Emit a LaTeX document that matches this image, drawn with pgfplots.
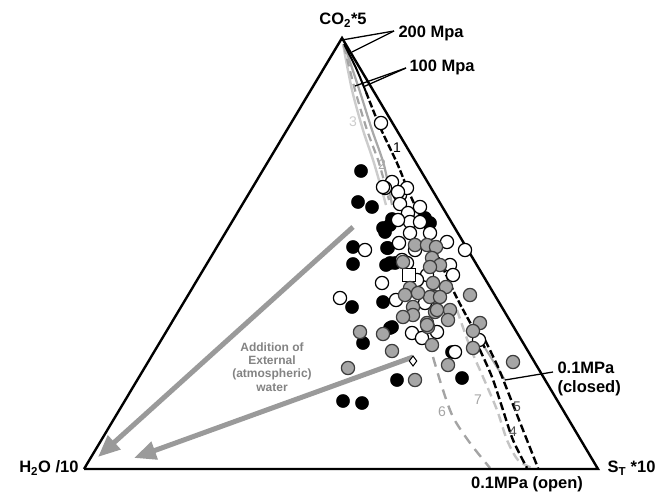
\documentclass[border=0pt]{standalone}
\usepackage{pgfplots}
\pgfplotsset{compat=1.18}
\usetikzlibrary{arrows.meta}
\usepackage{fontspec}
\setmainfont{Liberation Sans}

\definecolor{ptgray}{HTML}{A6A6A6}
\definecolor{ptedge}{HTML}{3C3C3C}
\definecolor{arrowgray}{HTML}{9A9A9A}
\definecolor{cthree}{HTML}{CCCCCC}
\definecolor{ctwo}{HTML}{A8A8A8}
\definecolor{csix}{HTML}{A4A4A4}
\definecolor{cseven}{HTML}{C4C4C4}

\tikzset{lab/.style={font=\bfseries\fontsize{16.5}{18.5}\selectfont},
         num/.style={font=\fontsize{14}{16}\selectfont}}

\begin{document}
\begin{tikzpicture}
\begin{axis}[
  width=660pt, height=491pt, scale only axis,
  xmin=0, xmax=660, ymin=0, ymax=491, y dir=reverse,
  axis lines=none, clip=false,
]
% invisible frame
\addplot[draw=none] coordinates {(0,0) (660,491)};

% curves from the top (200/100 MPa)
\addplot[cthree, line width=2.4pt, smooth] coordinates {(343,44) (352,90) (363,130) (374,163) (386,205)};
\addplot[csix, line width=2.2pt, dash pattern=on 8pt off 5pt, smooth] coordinates {(344,46) (355,90) (367,130) (379,163) (389,200)};
\addplot[ctwo, line width=2.2pt, smooth] coordinates {(346,50) (360,92) (372,130) (384,165) (392,205)};
\addplot[black, line width=2pt, smooth] coordinates {(344,44) (356,68) (366,92)};
\addplot[black, line width=2.4pt, dash pattern=on 7pt off 2.5pt, smooth] coordinates {(366,92) (380,127) (397,163) (408,190) (417,210) (435,250) (453,290) (467,317) (485,348)};
\addplot[ctwo, line width=2pt] coordinates {(485,348) (505,380)};
\addplot[black, line width=1.3pt] coordinates {(505,380) (553,372)};

% curves to 0.1 MPa (open)
\addplot[csix, line width=2.4pt, dash pattern=on 10pt off 7pt, smooth] coordinates {(433,357) (442,387) (453,417) (470,443) (490,468)};
\addplot[cseven, line width=2.4pt, dash pattern=on 9pt off 5pt, smooth] coordinates {(457,310) (470,347) (483,377) (497,410) (507,440) (518,460) (532,468)};
\addplot[black, line width=2.4pt, dash pattern=on 8pt off 3.5pt, smooth] coordinates {(470,328) (480,350) (492,377) (502,407) (513,440) (527,468)};
\addplot[black, line width=2.4pt, dash pattern=on 8pt off 3.5pt, smooth] coordinates {(485,340) (498,367) (510,397) (523,430) (538,468)};

% triangle
\addplot[black, line width=2.4pt] coordinates {(84,469) (598,469) (342,38) (84,469)};

% pointer lines
\addplot[black, line width=1.3pt] coordinates {(394,31) (342,40)};
\addplot[black, line width=1.3pt] coordinates {(394,31) (352,52)};
\addplot[black, line width=1.3pt] coordinates {(406,68) (355,86)};
\addplot[black, line width=1.3pt] coordinates {(406,68) (363,87)};

% arrows: addition of external water
\addplot[arrowgray, line width=5pt, -{Triangle[length=22pt,width=18pt]}] coordinates {(353,227) (98,457)};
\addplot[arrowgray, line width=5pt, -{Triangle[length=22pt,width=18pt]}] coordinates {(413,357) (134,458)};

% black samples
\addplot[only marks, mark=*, mark size=6.6pt, mark options={fill=black, draw=black}] coordinates {
(361,171) (358,202) (372,207) (383,228) (390,225) (392,219) (353,247) (388,248)
(353,264) (386,265) (395,263) (352,307) (383,302) (390,328) (363,343) (343,401)
(362,403) (425,218) (430,223) (385,232) (387,248) (390,263) (392,327) (397,380)
(462,378) (452,352)};

% open samples
\addplot[only marks, mark=*, mark size=6.6pt, mark options={fill=white, draw=black, line width=1.2pt}] coordinates {
(381,123) (392,182) (385,188) (400,195) (407,188) (398,192) (400,204) (420,207)
(408,213) (410,222) (420,222) (398,220) (410,233) (430,233) (399,243) (447,242)
(465,250) (415,250) (402,260) (450,265) (453,275) (427,275) (417,280) (382,283)
(340,298) (365,250) (396,300) (412,333) (422,338) (455,352) (407,263) (435,263)
(479,340) (437,332) (425,303) (383,187)};

% open square and diamond
\addplot[only marks, mark=square*, mark size=6.5pt, mark options={fill=white, draw=black, line width=1.2pt}] coordinates {(409,275)};
\addplot[only marks, mark=diamond*, mark size=5pt, mark options={fill=white, draw=black, line width=1pt}] coordinates {(413,361)};

% grey samples
\addplot[only marks, mark=*, mark size=6.6pt, mark options={fill=ptgray, draw=ptedge, line width=1.2pt}] coordinates {
(415,245) (427,245) (436,247) (432,258) (440,265) (403,262) (433,283) (446,287)
(470,295) (410,288) (405,295) (413,307) (434,297) (450,310) (448,320) (413,315)
(427,323) (480,323) (473,331) (360,332) (383,334) (392,351) (432,345) (473,348)
(348,368) (415,380) (448,365) (513,362) (430,297) (440,297) (435,312) (418,293)
(430,267) (403,317) (437,310) (428,327) (427,325)};

% labels
\node[lab] at (axis cs:343,20) {CO\textsubscript{2}*5};
\node[lab, anchor=west] at (axis cs:395,33) {200 Mpa};
\node[lab, anchor=west] at (axis cs:406,67) {100 Mpa};
\node[lab, anchor=west, align=left] at (axis cs:554,379) {0.1MPa\\(closed)};
\node[lab, anchor=west] at (axis cs:604,468) {S\textsubscript{T} *10};
\node[lab, anchor=east] at (axis cs:82,468) {H\textsubscript{2}O /10};
\node[lab] at (axis cs:527,484) {0.1MPa (open)};
\node[align=center, text=arrowgray!85!black, font=\bfseries\fontsize{12}{13.3}\selectfont] at (axis cs:272,367) {Addition of\\External\\(atmospheric)\\water};

% curve numbers
\node[num, text=black] at (axis cs:397,148) {1};
\node[num, text=ctwo] at (axis cs:382,165) {2};
\node[num, text=cthree] at (axis cs:353,122) {3};
\node[num, text=black!70] at (axis cs:513,432) {4};
\node[num, text=black!70] at (axis cs:517,407) {5};
\node[num, text=csix] at (axis cs:442,412) {6};
\node[num, text=csix] at (axis cs:478,400) {7};
\end{axis}
\end{tikzpicture}
\end{document}
